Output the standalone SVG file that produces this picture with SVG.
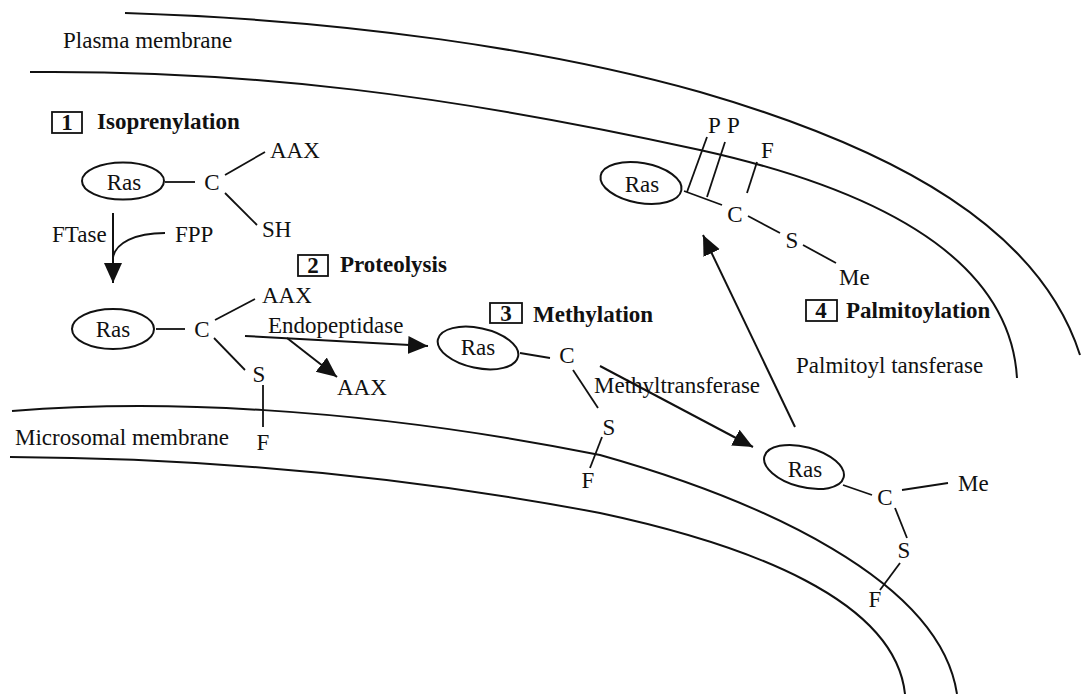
<svg xmlns="http://www.w3.org/2000/svg" width="1083" height="694" viewBox="0 0 1083 694">
<style>
text{font-family:"Liberation Serif","Times New Roman",serif;font-size:23px;fill:#111}
.b{font-weight:bold}
.m{text-anchor:middle}
.mem{fill:none;stroke:#111;stroke-width:2}
.bond{fill:none;stroke:#111;stroke-width:1.8}
.ell{fill:#fff;stroke:#111;stroke-width:2}
.box{fill:none;stroke:#111;stroke-width:1.8}
.arr{fill:none;stroke:#111;stroke-width:2;marker-end:url(#ah)}
</style>
<defs>
<marker id="ah" markerUnits="userSpaceOnUse" viewBox="0 0 20 20" markerWidth="20" markerHeight="20" refX="20" refY="10" orient="auto">
<path d="M0,1 L20,10 L0,19 z" fill="#111"/>
</marker>
</defs>
<rect width="1083" height="694" fill="#fff"/>
<g id="membranes">
<path class="mem" d="M125,13 C350,20 550,50 700,92 C900,150 1040,230 1080,355"/>
<path class="mem" d="M30,72 C250,70 450,95 700,150 C880,190 1010,260 1017,378"/>
<path class="mem" d="M12,411 C150,400 350,405 600,455 C760,500 940,580 957,694"/>
<path class="mem" d="M10,457 C200,458 400,475 600,513 C750,545 895,600 905,694"/>
<text x="63" y="48">Plasma membrane</text>
<text x="15" y="445">Microsomal membrane</text>
</g>
<g id="step1">
<rect class="box" x="52" y="112" width="30" height="21"/>
<text class="b m" x="67" y="130">1</text>
<text class="b" x="97" y="129">Isoprenylation</text>
<ellipse class="ell" cx="123" cy="181" rx="41" ry="18.5"/>
<text class="m" x="124" y="190">Ras</text>
<line class="bond" x1="165" y1="182" x2="195" y2="182"/>
<text class="m" x="212" y="190">C</text>
<line class="bond" x1="225" y1="175" x2="265" y2="152"/>
<text x="270" y="158">AAX</text>
<line class="bond" x1="225" y1="193" x2="257" y2="225"/>
<text x="262" y="237">SH</text>
<text x="52" y="242">FTase</text>
<text x="175" y="242">FPP</text>
</g>
<g id="step2">
<rect class="box" x="298" y="255" width="30" height="21"/>
<text class="b m" x="313" y="273">2</text>
<text class="b" x="340" y="272">Proteolysis</text>
<ellipse class="ell" cx="113" cy="329" rx="41" ry="20"/>
<text class="m" x="113" y="337">Ras</text>
<line class="bond" x1="156" y1="329" x2="185" y2="329"/>
<text class="m" x="202" y="337">C</text>
<line class="bond" x1="215" y1="320" x2="255" y2="299"/>
<text x="262" y="303">AAX</text>
<line class="bond" x1="214" y1="338" x2="245" y2="370"/>
<text class="m" x="259" y="382">S</text>
<line class="bond" x1="263" y1="385" x2="263" y2="427"/>
<text class="m" x="263" y="450">F</text>
<text x="268" y="333">Endopeptidase</text>
<text x="337" y="395">AAX</text>
</g>
<g id="step3">
<rect class="box" x="490" y="303" width="32" height="20"/>
<text class="b m" x="506" y="321">3</text>
<text class="b" x="533" y="322">Methylation</text>
<ellipse class="ell" cx="478" cy="348" rx="41" ry="20" transform="rotate(12 478 348)"/>
<text class="m" x="478" y="355">Ras</text>
<line class="bond" x1="520" y1="353" x2="550" y2="358"/>
<text class="m" x="567" y="363">C</text>
<line class="bond" x1="573" y1="370" x2="598" y2="408"/>
<text class="m" x="609" y="435">S</text>
<line class="bond" x1="602" y1="437" x2="590" y2="468"/>
<text class="m" x="588" y="488">F</text>
<text x="594" y="393">Methyltransferase</text>
</g>
<g id="step3-product">
<ellipse class="ell" cx="804" cy="467" rx="41" ry="20" transform="rotate(15 804 467)"/>
<text class="m" x="805" y="477">Ras</text>
<line class="bond" x1="843" y1="485" x2="872" y2="495"/>
<text class="m" x="885" y="505">C</text>
<line class="bond" x1="902" y1="490" x2="948" y2="483"/>
<text x="958" y="491">Me</text>
<line class="bond" x1="895" y1="508" x2="907" y2="538"/>
<text class="m" x="904" y="558">S</text>
<line class="bond" x1="900" y1="563" x2="880" y2="590"/>
<text class="m" x="875" y="607">F</text>
</g>
<g id="step4">
<rect class="box" x="806" y="300" width="31" height="21"/>
<text class="b m" x="821" y="318">4</text>
<text class="b" x="846" y="318">Palmitoylation</text>
<text x="796" y="373">Palmitoyl tansferase</text>
<ellipse class="ell" cx="641" cy="183" rx="41" ry="20" transform="rotate(10 641 183)"/>
<text class="m" x="642" y="192">Ras</text>
<line class="bond" x1="684" y1="191" x2="722" y2="205"/>
<text class="m" x="735" y="222">C</text>
<line class="bond" x1="687" y1="192" x2="707" y2="137"/>
<line class="bond" x1="707" y1="197" x2="725" y2="142"/>
<line class="bond" x1="747" y1="193" x2="757" y2="162"/>
<text x="708" y="133">P</text>
<text x="727" y="133">P</text>
<text x="761" y="158">F</text>
<line class="bond" x1="748" y1="216" x2="780" y2="233"/>
<text class="m" x="792" y="248">S</text>
<line class="bond" x1="803" y1="245" x2="836" y2="263"/>
<text x="839" y="285">Me</text>
</g>
<g id="connectors">
<line class="arr" x1="113" y1="213" x2="113" y2="283"/>
<path class="bond" d="M165,233 C135,233 115,243 113,258"/>
<line class="arr" x1="245" y1="336" x2="428" y2="346"/>
<line class="arr" x1="287" y1="338" x2="337" y2="377"/>
<line class="arr" x1="600" y1="366" x2="753" y2="447"/>
<line class="arr" x1="795" y1="427" x2="703" y2="235"/>
</g>
</svg>
